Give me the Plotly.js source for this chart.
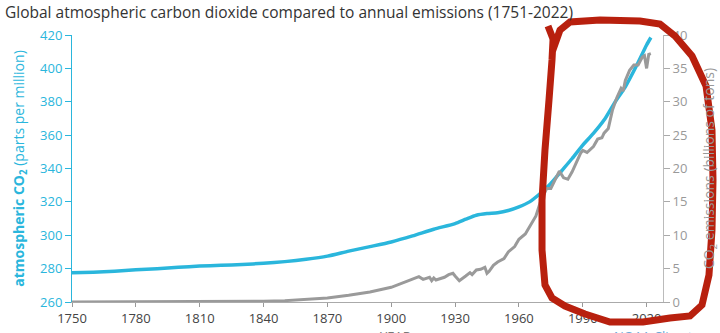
<!DOCTYPE html>
<html><head><meta charset="utf-8">
<script src="https://cdn.plot.ly/plotly-3.0.1.min.js"></script>
<style>html,body{margin:0;padding:0;background:#fff}#chart{width:720px;height:333px}</style>
</head><body><div id="chart"></div>
<script>
// CO2 concentration (ppm), left axis
const co2Years = [1750,1760,1770,1780,1790,1800,1810,1820,1830,1840,1850,1860,1870,1880,1890,1900,1910,1920,1930,1935,1940,1945,1950,1955,1960,1965,1970,1975,1980,1985,1990,1995,2000,2005,2010,2015,2020,2022];
const co2Ppm   = [277.5,277.9,278.5,279.3,280.0,280.8,281.5,282.0,282.5,283.2,284.2,285.6,287.5,290.5,293.2,296.0,299.6,303.6,307.0,309.6,312.0,313.0,313.5,314.8,317.0,320.0,325.0,331.0,338.5,346.0,354.0,361.0,369.0,379.5,389.0,401.0,414.0,418.5];
// Annual CO2 emissions (billion tons), right axis
const emYears = [1750,1760,1770,1780,1790,1800,1810,1820,1830,1840,1850,1860,1870,1880,1890,1900,1905,1910,1913,1915,1918,1919,1920,1921,1925,1927,1929,1930,1932,1935,1937,1938,1940,1942,1944,1945,1946,1948,1950,1953,1955,1958,1960,1963,1965,1968,1970,1973,1975,1979,1981,1983,1985,1987,1989,1990,1992,1995,1997,1999,2000,2002,2004,2006,2008,2009,2010,2012,2014,2016,2017,2018,2019,2020,2021,2022];
const emissions = [0.01,0.01,0.02,0.02,0.03,0.03,0.04,0.05,0.07,0.1,0.2,0.35,0.6,1.0,1.5,2.2,2.8,3.4,3.8,3.4,3.7,3.2,3.6,3.3,3.7,4.1,4.3,3.9,3.2,3.9,4.4,4.1,4.8,4.9,5.2,4.3,4.6,5.5,6.0,6.5,7.5,8.3,9.4,10.2,11.3,12.9,14.9,17.0,17.0,19.6,18.6,18.4,19.5,21.0,22.3,22.7,22.4,23.3,24.4,24.6,25.3,26.0,28.8,30.6,32.0,31.6,33.2,34.7,35.5,35.5,36.0,36.7,36.9,35.0,37.1,37.2];

const titleText = 'Global atmospheric carbon dioxide compared to annual emissions (1751-2022)';
const yTitle = '<b>atmospheric CO<sub>2</sub></b> (parts per million)';
const y2Title = 'CO<sub>2</sub> emissions (billions of tons)';

const W = 720, H = 333;
const M = {l:72, r:57, t:35, b:31};
const PW = W - M.l - M.r, PH = H - M.t - M.b;
function px(x){ return (x - M.l) / PW; }
function py(y){ return (H - M.b - y) / PH; }
// hand-drawn red loop (pixel positions converted to paper coordinates)
const loopPts = [[548,26],[555,44],[560,30],[570,22],[600,20],[640,21],[660,24],[675,36],[692,56],[706,86],[712,130],[713,180],[712,230],[709,275],[702,305],[690,316],[670,318],[643,322],[610,322],[585,314],[565,306],[552,298],[545,285],[542,250],[542,200],[545,150],[549,100],[552,60],[553,40]];
const loopPath = 'M ' + loopPts.map(p => px(p[0]).toFixed(4) + ',' + py(p[1]).toFixed(4)).join(' L ');

const cyan = '#2ab6dc';
const traces = [
  {x: emYears, y: emissions, yaxis: 'y2', type: 'scatter', mode: 'lines',
   line: {color: '#9a9a9a', width: 3}, hoverinfo: 'skip'},
  {x: co2Years, y: co2Ppm, type: 'scatter', mode: 'lines',
   line: {color: cyan, width: 3.5, shape: 'spline', smoothing: 0.6}, hoverinfo: 'skip'}
];
const font = 'Open Sans, sans-serif';
const layout = {
  width: W, height: H, margin: M, showlegend: false,
  paper_bgcolor: '#fff', plot_bgcolor: '#fff',
  font: {family: font, size: 13, color: '#555'},
  title: {text: titleText, x: 5/W, xanchor: 'left', xref: 'container', y: 1 - 13/H, yanchor: 'middle', yref: 'container',
          font: {family: font, size: 15.5, color: '#333'}},
  xaxis: {range: [1750, 2027.7], tick0: 1750, dtick: 30, ticks: 'outside', ticklen: 4, tickcolor: '#999',
          showline: true, linecolor: '#aaa', linewidth: 1, showgrid: false, zeroline: false,
          tickfont: {size: 13, color: '#444'}},
  yaxis: {range: [260, 420], dtick: 20, ticks: 'outside', ticklen: 6, tickcolor: cyan,
          showline: true, linecolor: cyan, linewidth: 1, showgrid: false, zeroline: false,
          tickfont: {size: 13, color: cyan},
          title: {text: yTitle, font: {size: 14, color: cyan}, standoff: 12}},
  yaxis2: {overlaying: 'y', side: 'right', range: [0, 40], dtick: 5, ticks: 'outside', ticklen: 6, tickcolor: '#aaa',
          showline: true, linecolor: '#bbb', linewidth: 1, showgrid: false, zeroline: false,
          tickfont: {size: 13, color: '#999'},
          title: {text: y2Title, font: {size: 14, color: '#999'}, standoff: 27}},
  annotations: [
    {text: 'YEAR', xref: 'paper', yref: 'paper', x: px(395), y: py(336), showarrow: false,
     font: {size: 13, color: '#777'}, xanchor: 'center', yanchor: 'middle'},
    {text: 'NOAA Climate.gov', xref: 'paper', yref: 'paper', x: px(612), y: py(336), showarrow: false,
     font: {size: 13, color: '#6aa8d8'}, xanchor: 'left', yanchor: 'middle'}
  ],
  shapes: [
    {type: 'path', path: loopPath, xref: 'paper', yref: 'paper',
     line: {color: '#b8200e', width: 7}, layer: 'above'}
  ]
};
Plotly.newPlot('chart', traces, layout, {displayModeBar: false, staticPlot: true});
</script></body></html>
